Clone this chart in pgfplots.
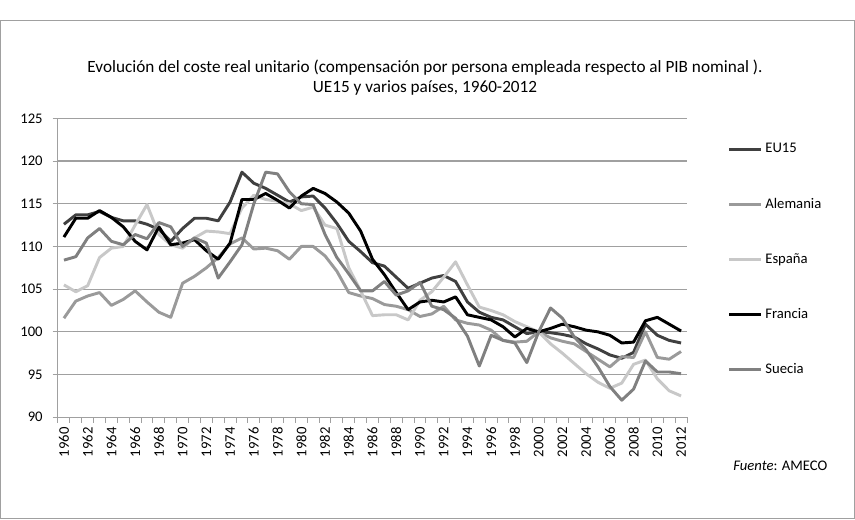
\documentclass[border=0pt]{standalone}
\usepackage{pgfplots}
\usepackage{pgfplotstable}
\pgfplotsset{compat=1.18}
\usepackage{fontspec}
\setmainfont{Carlito}
\definecolor{ceu}{HTML}{404040}
\definecolor{cal}{HTML}{9A9A9A}
\definecolor{ces}{HTML}{C8C8C8}
\definecolor{cfr}{HTML}{000000}
\definecolor{csu}{HTML}{808080}
\definecolor{cgrid}{HTML}{A0A0A0}
\pgfplotstableread{
year EU Al Es Fr Su
1960 112.6 101.6 105.5 111.1 108.4
1961 113.7 103.6 104.7 113.3 108.8
1962 113.7 104.2 105.4 113.3 111.0
1963 114.1 104.6 108.7 114.2 112.1
1964 113.4 103.1 109.8 113.4 110.6
1965 113.0 103.8 110.0 112.3 110.2
1966 113.0 104.8 112.5 110.6 111.4
1967 112.6 103.5 114.9 109.6 110.9
1968 112.0 102.3 111.4 112.3 112.8
1969 110.6 101.7 110.2 110.2 112.3
1970 112.1 105.7 109.8 110.4 110.0
1971 113.3 106.5 111.0 110.8 111.0
1972 113.3 107.5 111.8 109.5 110.4
1973 113.0 108.7 111.7 108.5 106.3
1974 115.2 110.3 111.5 110.4 108.2
1975 118.7 111.0 114.5 115.5 110.2
1976 117.4 109.7 116.0 115.5 115.0
1977 116.8 109.8 115.5 116.2 118.7
1978 116.0 109.5 115.3 115.4 118.5
1979 115.2 108.5 115.0 114.5 116.4
1980 115.8 110.0 114.2 115.9 115.0
1981 115.9 110.0 114.6 116.8 114.9
1982 114.5 108.9 112.5 116.2 111.4
1983 112.7 107.1 112.1 115.2 108.7
1984 110.6 104.6 107.5 113.9 106.8
1985 109.4 104.2 104.8 111.8 104.8
1986 108.1 103.9 101.9 108.5 104.8
1987 107.7 103.2 102.0 106.7 105.9
1988 106.4 103.0 102.0 104.6 104.3
1989 105.1 102.6 101.4 102.6 104.8
1990 105.7 101.8 103.7 103.5 105.8
1991 106.3 102.1 104.7 103.7 103.0
1992 106.6 103.0 106.4 103.5 102.6
1993 105.9 101.4 108.2 104.1 101.6
1994 103.5 101.0 105.5 102.0 99.5
1995 102.3 100.8 102.9 101.7 96.0
1996 101.7 100.2 102.5 101.4 99.6
1997 101.4 99.0 102.0 100.6 99.0
1998 100.6 98.8 101.2 99.4 98.7
1999 99.8 98.9 100.6 100.4 96.4
2000 100.0 100.0 100.0 100.0 100.0
2001 99.9 99.3 98.6 100.4 102.8
2002 99.7 98.9 97.5 100.9 101.6
2003 99.4 98.6 96.3 100.6 99.4
2004 98.6 97.7 95.1 100.2 97.9
2005 98.0 96.8 94.1 100.0 95.9
2006 97.3 95.9 93.4 99.6 93.6
2007 96.9 97.1 94.0 98.7 92.0
2008 97.6 97.0 96.2 98.8 93.3
2009 100.9 100.0 96.7 101.3 96.6
2010 99.6 97.0 94.5 101.7 95.3
2011 99.0 96.8 93.1 100.9 95.3
2012 98.7 97.7 92.5 100.1 95.1
}\data
\begin{document}
\begin{tikzpicture}
\path[use as bounding box] (0,0) rectangle (641.25pt,389.25pt);
\draw[line width=0.75pt, color=cgrid] (0.6pt,0.6pt) rectangle (640.65pt,374pt);
\node[align=center, font=\fontsize{12.9}{15}\selectfont] at (318.75pt,331pt)
  {Evolución del coste real unitario (compensación por persona empleada respecto al PIB nominal ).\\
   UE15 y varios países, 1960-2012};
\node[anchor=west, font=\fontsize{11}{13}\selectfont, inner sep=0pt] at (549.75pt,39.75pt) {\textit{Fuente}: AMECO};
\begin{axis}[
  at={(43.5pt,76.3pt)}, anchor=south west,
  scale only axis, width=471.75pt, height=224.2pt,
  xmin=1959.5, xmax=2012.5, ymin=90, ymax=125,
  axis x line*=bottom, axis y line*=left,
  axis line style={color=cgrid, line width=0.75pt},
  ytick={90,95,...,125},
  ymajorgrids, grid style={color=cgrid, line width=0.9pt},
  xtick={1960,1962,...,2012},
  xticklabel style={rotate=90, anchor=east, font=\fontsize{11}{13}\selectfont},
  x tick label style={/pgf/number format/1000 sep={}},
  yticklabel style={font=\fontsize{11}{13}\selectfont, xshift=-4pt},
  /pgf/number format/assume math mode=true,
  minor xtick={1959.5,1960.5,...,2012.5},
  major x tick style={draw=none},
  minor x tick style={color=cgrid, line width=0.75pt},
  y tick style={color=cgrid, line width=0.75pt},
  tick align=outside,
  major tick length=4pt, minor tick length=4pt,
  legend style={draw=none, fill=none, at={(1.058,0.935)}, anchor=north west,
    font=\fontsize{11}{13}\selectfont, row sep=28.4pt},
  legend cell align=left,
  legend image code/.code={\draw[#1] (0pt,0pt) -- (24pt,0pt);},
  every axis plot/.append style={line width=2.2pt, line join=round},
]
\addplot[color=ceu, mark=none] table[x=year,y=EU] {\data};
\addlegendentry{EU15}
\addplot[color=cal, mark=none] table[x=year,y=Al] {\data};
\addlegendentry{Alemania}
\addplot[color=ces, mark=none] table[x=year,y=Es] {\data};
\addlegendentry{España}
\addplot[color=cfr, mark=none] table[x=year,y=Fr] {\data};
\addlegendentry{Francia}
\addplot[color=csu, mark=none] table[x=year,y=Su] {\data};
\addlegendentry{Suecia}
\end{axis}
\end{tikzpicture}
\end{document}
